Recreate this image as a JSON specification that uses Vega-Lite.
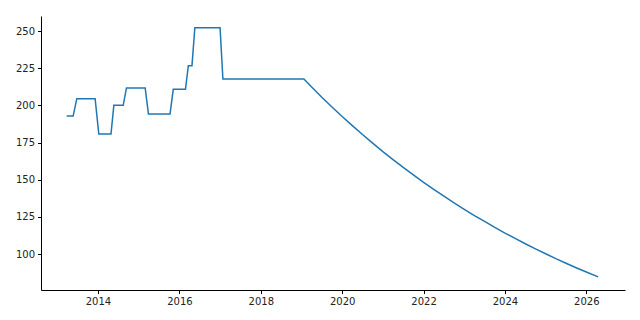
{
  "$schema": "https://vega.github.io/schema/vega-lite/v6.json",
  "autosize": "none",
  "width": 584,
  "height": 274,
  "padding": {"left": 41, "top": 16, "right": 15, "bottom": 30},
  "background": "white",
  "config": {"view": {"stroke": null}, "font": "DejaVu Sans"},
  "data": {"values": [
    {"year": 2013.23, "value": 192.8},
    {"year": 2013.39, "value": 192.8},
    {"year": 2013.48, "value": 204.5},
    {"year": 2013.93, "value": 204.5},
    {"year": 2014.02, "value": 180.7},
    {"year": 2014.32, "value": 180.7},
    {"year": 2014.39, "value": 200.0},
    {"year": 2014.62, "value": 200.0},
    {"year": 2014.70, "value": 211.7},
    {"year": 2015.16, "value": 211.7},
    {"year": 2015.24, "value": 194.2},
    {"year": 2015.77, "value": 194.2},
    {"year": 2015.85, "value": 210.8},
    {"year": 2016.15, "value": 210.8},
    {"year": 2016.22, "value": 226.7},
    {"year": 2016.31, "value": 226.7},
    {"year": 2016.38, "value": 252.2},
    {"year": 2017.00, "value": 252.2},
    {"year": 2017.07, "value": 217.7},
    {"year": 2019.06, "value": 217.7},
    {"year": 2019.25, "value": 212.4},
    {"year": 2019.5, "value": 205.5},
    {"year": 2019.75, "value": 198.9},
    {"year": 2020.0, "value": 192.5},
    {"year": 2020.25, "value": 186.4},
    {"year": 2020.5, "value": 180.4},
    {"year": 2020.75, "value": 174.6},
    {"year": 2021.0, "value": 168.9},
    {"year": 2021.25, "value": 163.5},
    {"year": 2021.5, "value": 158.3},
    {"year": 2021.75, "value": 153.2},
    {"year": 2022.0, "value": 148.2},
    {"year": 2022.25, "value": 143.5},
    {"year": 2022.5, "value": 138.9},
    {"year": 2022.75, "value": 134.4},
    {"year": 2023.0, "value": 130.1},
    {"year": 2023.25, "value": 125.9},
    {"year": 2023.5, "value": 121.9},
    {"year": 2023.75, "value": 117.9},
    {"year": 2024.0, "value": 114.1},
    {"year": 2024.25, "value": 110.5},
    {"year": 2024.5, "value": 106.9},
    {"year": 2024.75, "value": 103.5},
    {"year": 2025.0, "value": 100.2},
    {"year": 2025.25, "value": 96.9},
    {"year": 2025.5, "value": 93.8},
    {"year": 2025.75, "value": 90.8},
    {"year": 2026.0, "value": 87.9},
    {"year": 2026.29, "value": 84.6}
  ]},
  "mark": {"type": "line", "color": "#1f77b4", "strokeWidth": 1.5},
  "encoding": {
    "x": {
      "field": "year", "type": "quantitative",
      "scale": {"domain": [2012.6, 2026.95], "nice": false, "zero": false},
      "axis": {"title": null, "values": [2014, 2016, 2018, 2020, 2022, 2024, 2026], "format": "d",
        "grid": false, "domainColor": "black", "tickColor": "black", "tickSize": 3.5,
        "labelFontSize": 10, "labelColor": "#222", "labelPadding": 3, "labelFlush": false}
    },
    "y": {
      "field": "value", "type": "quantitative",
      "scale": {"domain": [75.8, 260.1], "nice": false, "zero": false},
      "axis": {"title": null, "values": [100, 125, 150, 175, 200, 225, 250],
        "grid": false, "domainColor": "black", "tickColor": "black", "tickSize": 3.5,
        "labelFontSize": 10, "labelColor": "#222", "labelPadding": 3}
    }
  }
}
